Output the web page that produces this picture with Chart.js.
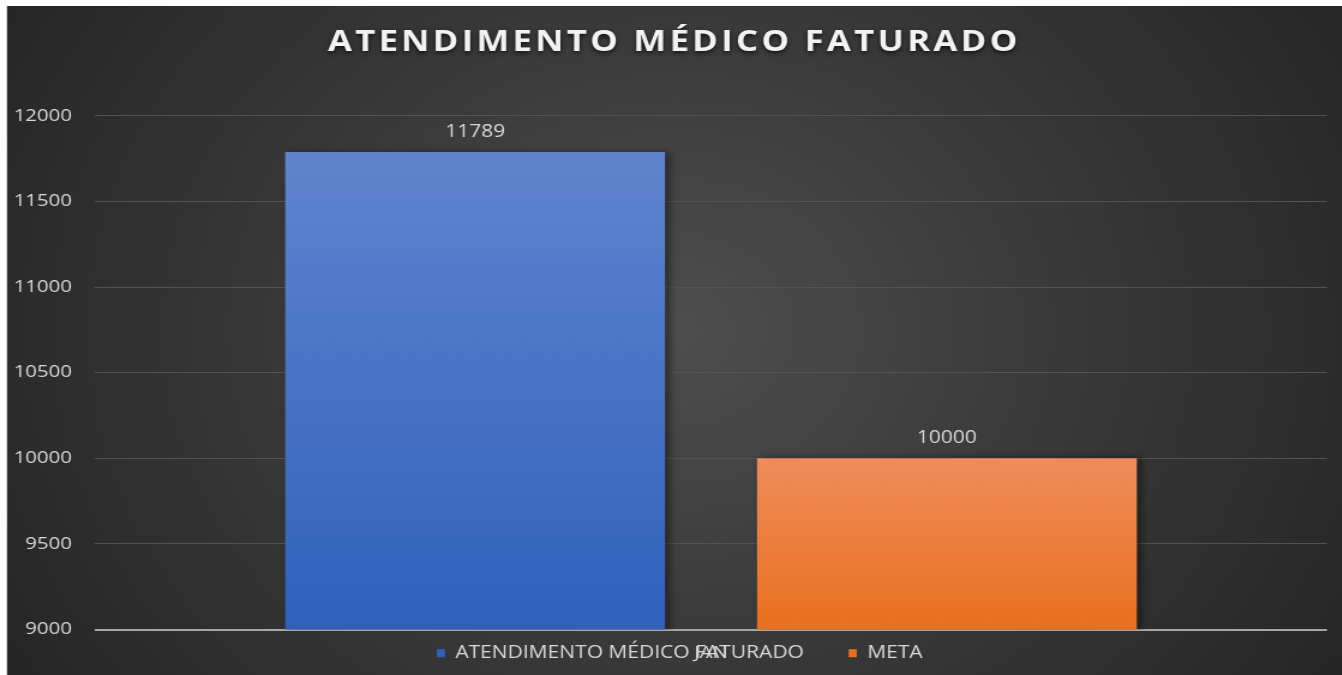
<!DOCTYPE html>
<html>
<head>
<meta charset="utf-8">
<script src="https://cdn.jsdelivr.net/npm/chart.js@4.4.0/dist/chart.umd.min.js"></script>
<style>
  html, body { margin: 0; padding: 0; background: #fff; overflow: hidden; }
  /* the source picture is stretched sideways, so the chart is drawn narrow and widened */
  #wrap { width: 1118.33px; height: 675px; transform: scaleX(1.2); transform-origin: 0 0; }
</style>
</head>
<body>
<div id="wrap"><canvas id="myChart"></canvas></div>
<script>
const categories = ['JAN'];
const seriesNames = ['ATENDIMENTO MÉDICO FATURADO', 'META'];
const atendimentoValues = [11789];
const metaValues = [10000];
const yTicks = [9000, 9500, 10000, 10500, 11000, 11500, 12000];

const TEXT = '#d9d9d9';
const FONT = "'Open Sans', sans-serif";

// vertical gradient per bar, from its top down to the axis minimum
function barGradient(top, bottom, flat) {
  return (c) => {
    if (c.type !== 'data' || !c.chart.chartArea) return flat;
    const y = c.chart.scales.y;
    const g = c.chart.ctx.createLinearGradient(0, y.getPixelForValue(c.raw), 0, y.getPixelForValue(y.min));
    g.addColorStop(0, top);
    g.addColorStop(1, bottom);
    return g;
  };
}

const decor = {
  id: 'decor',
  afterInit(chart) {
    // spaced title with a soft shadow
    const tb = chart.titleBlock;
    const drawTitle = tb.draw.bind(tb);
    tb.draw = function () {
      const ctx = chart.ctx;
      ctx.save();
      ctx.letterSpacing = '2.7px';
      ctx.shadowColor = 'rgba(0,0,0,0.7)';
      ctx.shadowBlur = 4;
      ctx.shadowOffsetY = 2;
      drawTitle();
      ctx.restore();
    };
  },
  afterLayout(chart) {
    // legend and title sit a little right of the canvas centre
    chart.legend.left += 10.6;
    chart.legend.right += 10.6;
    chart.titleBlock.left += 6;
    chart.titleBlock.right += 6;
  },
  beforeDraw(chart) {
    const {ctx, width, height} = chart;
    ctx.save();
    ctx.fillStyle = '#fff';
    ctx.fillRect(0, 0, width, height);
    const g = ctx.createRadialGradient(565, 330, 0, 565, 330, 640);
    g.addColorStop(0, '#4e4e4e');
    g.addColorStop(0.4, '#3d3d3d');
    g.addColorStop(1, '#262626');
    ctx.fillStyle = g;
    ctx.fillRect(5.8, 6, width - 5.8, height - 6);
    ctx.restore();
  },
  beforeDatasetsDraw(chart) {
    const ctx = chart.ctx;
    ctx.save();
    ctx.shadowColor = 'rgba(0,0,0,0.45)';
    ctx.shadowBlur = 7;
    ctx.shadowOffsetX = 3.5;
  },
  afterDatasetsDraw(chart) {
    const ctx = chart.ctx;
    ctx.restore();
    ctx.save();
    ctx.fillStyle = TEXT;
    ctx.font = '17.5px ' + FONT;
    ctx.textAlign = 'center';
    ctx.textBaseline = 'middle';
    chart.data.datasets.forEach((ds, i) => {
      chart.getDatasetMeta(i).data.forEach((bar, j) => {
        ctx.fillText(String(ds.data[j]), bar.x, bar.y - 20);
      });
    });
    ctx.restore();
  }
};

const myChart = new Chart(document.getElementById('myChart'), {
  type: 'bar',
  data: {
    labels: categories,
    datasets: [
      {
        label: seriesNames[0],
        data: atendimentoValues,
        backgroundColor: barGradient('#5f84cf', '#2f61ba', '#4472c4'),
        borderWidth: 0
      },
      {
        label: seriesNames[1],
        data: metaValues,
        backgroundColor: barGradient('#f08c5a', '#e8701d', '#ed7d31'),
        borderWidth: 0
      }
    ]
  },
  options: {
    responsive: true,
    maintainAspectRatio: false,
    animation: false,
    categoryPercentage: 0.766,
    barPercentage: 0.805,
    layout: { padding: { top: 6, left: 5.8, right: 12.5, bottom: 3 } },
    plugins: {
      title: {
        display: true,
        text: 'ATENDIMENTO MÉDICO FATURADO',
        color: '#f2f2f2',
        font: { size: 29, weight: 'bold', family: FONT },
        padding: { top: 19, bottom: 56 }
      },
      legend: {
        position: 'bottom',
        labels: {
          color: TEXT,
          boxWidth: 6.7,
          boxHeight: 8,
          padding: 10,
          font: { size: 17.5, family: FONT },
          generateLabels(chart) {
            const items = Chart.defaults.plugins.legend.labels.generateLabels(chart);
            items[0].text += '      ';
            return items;
          }
        }
      },
      tooltip: { enabled: false }
    },
    scales: {
      x: {
        grid: { display: false, drawTicks: false },
        border: { display: false },
        ticks: { color: TEXT, padding: 13, font: { size: 17, family: FONT } },
        afterFit(scale) {
          scale.height = 5;
          // let the category label spill over the legend row, as in the source
          scale._computeLabelArea = () => undefined;
        }
      },
      y: {
        min: yTicks[0],
        max: yTicks[yTicks.length - 1],
        border: { display: false },
        grid: {
          drawTicks: false,
          color: (c) => c.tick.value === yTicks[0] ? '#a6a6a6' : '#535353',
          lineWidth: (c) => c.tick.value === yTicks[0] ? 2 : 1
        },
        ticks: {
          stepSize: yTicks[1] - yTicks[0],
          color: TEXT,
          padding: 19.2,
          font: { size: 17, family: FONT },
          callback: (v) => String(v)
        },
        afterFit(scale) { scale.width = 73.4; }
      }
    }
  },
  plugins: [decor]
});
</script>
</body>
</html>
